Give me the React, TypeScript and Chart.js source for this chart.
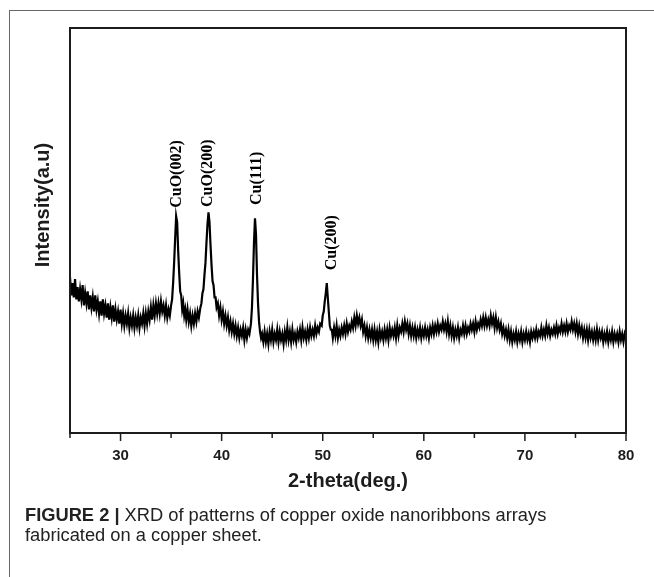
import React, { useEffect, useRef } from "react";
import { Chart, registerables } from "chart.js";

Chart.register(...registerables);

// XRD scan: diffraction angle (degrees 2θ) and measured intensity (a.u.)
const twoTheta = [
  25, 25.125, 25.25, 25.375, 25.5, 25.625, 25.75, 25.875,
  26, 26.125, 26.25, 26.375, 26.5, 26.625, 26.75, 26.875,
  27, 27.125, 27.25, 27.375, 27.5, 27.625, 27.75, 27.875,
  28, 28.125, 28.25, 28.375, 28.5, 28.625, 28.75, 28.875,
  29, 29.125, 29.25, 29.375, 29.5, 29.625, 29.75, 29.875,
  30, 30.125, 30.25, 30.375, 30.5, 30.625, 30.75, 30.875,
  31, 31.125, 31.25, 31.375, 31.5, 31.625, 31.75, 31.875,
  32, 32.125, 32.25, 32.375, 32.5, 32.625, 32.75, 32.875,
  33, 33.125, 33.25, 33.375, 33.5, 33.625, 33.75, 33.875,
  34, 34.125, 34.25, 34.375, 34.5, 34.625, 34.75, 34.875,
  35,
  35.1, 35.2, 35.3, 35.4, 35.5, 35.6, 35.7, 35.8, 35.9, 36, 36.1, 36.2, 36.3, 36.4,
  36.5, 36.625, 36.75, 36.875, 37, 37.125, 37.25, 37.375, 37.5, 37.625, 37.75,
  37.9, 38, 38.1, 38.2, 38.3, 38.4, 38.5, 38.6, 38.7, 38.8, 38.9, 39, 39.1, 39.2, 39.3, 39.4, 39.5,
  39.625, 39.75, 39.875, 40, 40.125, 40.25, 40.375, 40.5, 40.625, 40.75, 40.875,
  41, 41.125, 41.25, 41.375, 41.5, 41.625, 41.75, 41.875,
  42, 42.125, 42.25, 42.375, 42.5, 42.625, 42.75,
  42.9, 43, 43.1, 43.2, 43.3, 43.4, 43.5, 43.6, 43.7, 43.8, 43.9, 44,
  44.125, 44.25, 44.375, 44.5, 44.625, 44.75, 44.875,
  45, 45.125, 45.25, 45.375, 45.5, 45.625, 45.75, 45.875,
  46, 46.125, 46.25, 46.375, 46.5, 46.625, 46.75, 46.875,
  47, 47.125, 47.25, 47.375, 47.5, 47.625, 47.75, 47.875,
  48, 48.125, 48.25, 48.375, 48.5, 48.625, 48.75, 48.875,
  49, 49.125, 49.25, 49.375, 49.5, 49.625, 49.75,
  49.9, 50, 50.1, 50.2, 50.3, 50.4, 50.5, 50.6, 50.7, 50.8, 50.9, 51,
  51.125, 51.25, 51.375, 51.5, 51.625, 51.75, 51.875,
  52, 52.125, 52.25, 52.375, 52.5, 52.625, 52.75, 52.875,
  53, 53.125, 53.25, 53.375, 53.5, 53.625, 53.75, 53.875,
  54, 54.125, 54.25, 54.375, 54.5, 54.625, 54.75, 54.875,
  55, 55.125, 55.25, 55.375, 55.5, 55.625, 55.75, 55.875,
  56, 56.125, 56.25, 56.375, 56.5, 56.625, 56.75, 56.875,
  57, 57.125, 57.25, 57.375, 57.5, 57.625, 57.75, 57.875,
  58, 58.125, 58.25, 58.375, 58.5, 58.625, 58.75, 58.875,
  59, 59.125, 59.25, 59.375, 59.5, 59.625, 59.75, 59.875,
  60, 60.125, 60.25, 60.375, 60.5, 60.625, 60.75, 60.875,
  61, 61.125, 61.25, 61.375, 61.5, 61.625, 61.75, 61.875,
  62, 62.125, 62.25, 62.375, 62.5, 62.625, 62.75, 62.875,
  63, 63.125, 63.25, 63.375, 63.5, 63.625, 63.75, 63.875,
  64, 64.125, 64.25, 64.375, 64.5, 64.625, 64.75, 64.875,
  65, 65.125, 65.25, 65.375, 65.5, 65.625, 65.75, 65.875,
  66, 66.125, 66.25, 66.375, 66.5, 66.625, 66.75, 66.875,
  67, 67.125, 67.25, 67.375, 67.5, 67.625, 67.75, 67.875,
  68, 68.125, 68.25, 68.375, 68.5, 68.625, 68.75, 68.875,
  69, 69.125, 69.25, 69.375, 69.5, 69.625, 69.75, 69.875,
  70, 70.125, 70.25, 70.375, 70.5, 70.625, 70.75, 70.875,
  71, 71.125, 71.25, 71.375, 71.5, 71.625, 71.75, 71.875,
  72, 72.125, 72.25, 72.375, 72.5, 72.625, 72.75, 72.875,
  73, 73.125, 73.25, 73.375, 73.5, 73.625, 73.75, 73.875,
  74, 74.125, 74.25, 74.375, 74.5, 74.625, 74.75, 74.875,
  75, 75.125, 75.25, 75.375, 75.5, 75.625, 75.75, 75.875,
  76, 76.125, 76.25, 76.375, 76.5, 76.625, 76.75, 76.875,
  77, 77.125, 77.25, 77.375, 77.5, 77.625, 77.75, 77.875,
  78, 78.125, 78.25, 78.375, 78.5, 78.625, 78.75, 78.875,
  79, 79.125, 79.25, 79.375, 79.5, 79.625, 79.75, 79.875,
  80,
];

const intensity = [
  38.5, 34, 37, 33.5, 38, 33, 36, 32.5,
  35.5, 33, 36.5, 31.5, 34.5, 32, 35, 30.5,
  34, 31, 33.5, 30, 34, 30.5, 32.5, 29.5,
  32.5, 29, 33, 29.5, 31.5, 28.5, 32, 28,
  31, 28.5, 31.5, 27.5, 30.5, 28, 30, 27,
  30.5, 27, 29.5, 26.5, 29, 27, 29.5, 26,
  28.5, 26.5, 29, 26, 28.5, 26.5, 29, 26,
  28.5, 27, 29.5, 26.5, 29.5, 27, 30, 28,
  31, 28, 31.5, 29, 32, 29.5, 32, 29.5,
  32.5, 30, 31.5, 29, 31.5, 28.5, 30.5, 29,
  31.5,
  33, 37, 42, 48, 53.5, 52, 45, 39.5, 35, 34, 30.5, 32, 29, 30.5,
  28, 30.5, 27.5, 29.5, 26.5, 29, 27, 29.5, 27.5, 30, 28.5,
  31, 32, 34.5, 35.5, 39, 42, 47, 51.5, 54.5, 52, 46.5, 41.5, 37.5, 36.5, 33.5, 33.5, 31,
  32, 29, 31, 28, 30, 27, 29, 26.5, 28.5, 25.5, 27.5,
  25, 27, 24.5, 26.5, 24, 26, 23.5, 25.5,
  24, 26, 23, 25.5, 23.5, 25.5, 24.5,
  27, 31, 38, 47, 53, 49, 39, 32, 27.5, 25, 23.5, 24.5,
  22.5, 25, 22.5, 24.5, 22, 25, 23,
  25.5, 22.5, 24.5, 23, 25.5, 22.5, 25, 23,
  24.5, 22, 25, 23, 26, 23, 25, 22.5,
  25.5, 23, 24.5, 22.5, 25, 23.5, 25.5, 23,
  26, 23.5, 25, 23, 25.5, 23.5, 26, 24,
  25.5, 24, 26.5, 24.5, 26, 25, 27,
  26.5, 29, 30, 32.5, 34.5, 37, 33.5, 30, 26.5, 25.5, 25.5, 23.5,
  26, 24, 26.5, 23.5, 25.5, 24, 26,
  24.5, 26.5, 24.5, 27, 25, 26.5, 25.5, 27.5,
  26, 28.5, 26.5, 29, 27, 28.5, 26.5, 28,
  25, 26.5, 24, 26, 23.5, 25.5, 23.5, 25.5,
  23, 25.5, 23, 25, 22.5, 25.5, 23.5, 25,
  23, 25.5, 23.5, 25.5, 23, 26, 24, 25.5,
  24, 26, 23.5, 26.5, 24, 26, 25, 27,
  25, 27.5, 25.5, 27, 24.5, 26.5, 24, 26,
  24, 26, 23.5, 25.5, 24, 26, 23.5, 25.5,
  24, 26, 24, 25.5, 23.5, 26, 24.5, 26.5,
  24.5, 26.5, 25, 27, 25, 26.5, 25.5, 27.5,
  25.5, 27, 25, 27.5, 24.5, 26.5, 24, 26,
  23.5, 25.5, 24, 26, 23.5, 25.5, 24.5, 26.5,
  24.5, 26.5, 24.5, 26, 25, 27, 25.5, 27,
  25, 27.5, 25.5, 27, 26, 28, 26.5, 28.5,
  26.5, 28.5, 26.5, 28, 26.5, 29, 27, 28.5,
  26, 28.5, 26, 27.5, 25.5, 27, 24.5, 26,
  24, 25.5, 23.5, 25.5, 23, 25, 22.5, 24.5,
  23, 25, 22.5, 24.5, 23, 25, 22.5, 24.5,
  23, 25, 23, 24.5, 22.5, 25, 23.5, 25,
  23.5, 25.5, 23.5, 25, 24, 26, 24, 25.5,
  24, 26.5, 24.5, 26, 24, 25.5, 24.5, 26,
  24.5, 26.5, 24.5, 26, 25, 27, 25, 26.5,
  25, 27, 25, 26.5, 25.5, 27.5, 25.5, 27,
  25, 27, 24.5, 26.5, 24.5, 26, 23.5, 25.5,
  23.5, 25.5, 23, 25.5, 23.5, 25, 23, 25,
  23, 25.5, 23, 25, 23.5, 25, 22.5, 24.5,
  23, 25, 22.5, 24.5, 23, 25, 22.5, 24.5,
  23, 24.5, 22.5, 25, 23, 24.5, 22.5, 24.5,
  23.5,
];

// Reflection labels with the 2θ and intensity where each label starts
const peakNames = ["CuO(002)", "CuO(200)", "Cu(111)", "Cu(200)"];
const peakLabelTheta = [35.58, 38.65, 43.5, 50.92];
const peakLabelBase = [55.6, 55.8, 56.3, 40.2];

// Axis ticks
const xTicks = [25, 30, 35, 40, 45, 50, 55, 60, 65, 70, 75, 80];
const xTickLabels = ["", "30", "", "40", "", "50", "", "60", "", "70", "", "80"];

const xTitle = "2-theta(deg.)";
const yTitle = "Intensity(a.u)";

const SANS = '"Liberation Sans", Arial, Helvetica, sans-serif';
const SERIF = '"Liberation Serif", "Times New Roman", serif';

const framePlugin = {
  id: "xrdFrame",
  afterDraw(chart: any) {
    const { ctx, chartArea, scales } = chart;
    const xs = scales.x;
    const ys = scales.y;
    ctx.save();

    // plot box
    ctx.strokeStyle = "#1c1c1c";
    ctx.lineWidth = 2;
    ctx.strokeRect(chartArea.left, chartArea.top, chartArea.right - chartArea.left, chartArea.bottom - chartArea.top);

    // x ticks (outward), labelled every 10 degrees
    ctx.lineWidth = 1.5;
    ctx.fillStyle = "#1c1c1c";
    ctx.font = `bold 15px ${SANS}`;
    ctx.textAlign = "center";
    ctx.textBaseline = "middle";
    xTicks.forEach((v, i) => {
      const px = xs.getPixelForValue(v);
      const major = xTickLabels[i] !== "";
      ctx.beginPath();
      ctx.moveTo(px, chartArea.bottom);
      ctx.lineTo(px, chartArea.bottom + (major ? 8 : 5));
      ctx.stroke();
      if (major) ctx.fillText(xTickLabels[i], px, chartArea.bottom + 23);
    });

    // axis titles
    ctx.font = `bold 20px ${SANS}`;
    ctx.fillText(xTitle, (chartArea.left + chartArea.right) / 2, chartArea.bottom + 48);
    ctx.save();
    ctx.translate(chartArea.left - 27, chartArea.top + 177);
    ctx.rotate(-Math.PI / 2);
    ctx.fillText(yTitle, 0, 0);
    ctx.restore();

    // reflection labels, reading upward
    ctx.font = `bold 16px ${SERIF}`;
    ctx.fillStyle = "#000";
    ctx.textAlign = "left";
    peakNames.forEach((name, i) => {
      const px = xs.getPixelForValue(peakLabelTheta[i]);
      const py = ys.getPixelForValue(peakLabelBase[i]);
      ctx.save();
      ctx.translate(px, py);
      ctx.rotate(-Math.PI / 2);
      ctx.fillText(name, 0, 0);
      ctx.restore();
    });

    ctx.restore();
  },
};

export default function App() {
  const canvasRef = useRef<HTMLCanvasElement | null>(null);

  useEffect(() => {
    if (!canvasRef.current) return;
    const points = twoTheta.map((t, i) => ({ x: t, y: intensity[i] }));
    const chart = new Chart(canvasRef.current, {
      type: "line",
      data: {
        datasets: [
          {
            data: points,
            borderColor: "#000",
            borderWidth: 2.2,
            borderJoinStyle: "miter",
            pointRadius: 0,
            tension: 0,
            fill: false,
          },
        ],
      },
      options: {
        animation: false,
        responsive: false,
        devicePixelRatio: 1,
        layout: { padding: { left: 70, top: 28, right: 28, bottom: 144 } },
        scales: {
          x: { type: "linear", min: 25, max: 80, display: false },
          y: { type: "linear", min: 0, max: 100, display: false },
        },
        plugins: { legend: { display: false }, tooltip: { enabled: false } },
      },
      plugins: [framePlugin],
    });
    return () => chart.destroy();
  }, []);

  return (
    <div
      style={{
        position: "absolute",
        left: 0,
        top: 0,
        width: 654,
        height: 577,
        background: "#fff",
        overflow: "hidden",
      }}
    >
      <div style={{ position: "absolute", left: 9, top: 10, width: 645, height: 0, borderTop: "1px solid #666" }} />
      <div style={{ position: "absolute", left: 9, top: 10, width: 0, height: 567, borderLeft: "1px solid #666" }} />
      <canvas
        ref={canvasRef}
        width={654}
        height={577}
        style={{ position: "absolute", left: 0, top: 0 }}
      />
      <div
        style={{
          position: "absolute",
          left: 25,
          top: 505,
          fontFamily: '"Liberation Sans", Arial, sans-serif',
          fontSize: 18.3,
          lineHeight: "20px",
          color: "#222",
          whiteSpace: "nowrap",
        }}
      >
        <b>FIGURE 2 |</b> XRD of patterns of copper oxide nanoribbons arrays
        <br />
        fabricated on a copper sheet.
      </div>
    </div>
  );
}
